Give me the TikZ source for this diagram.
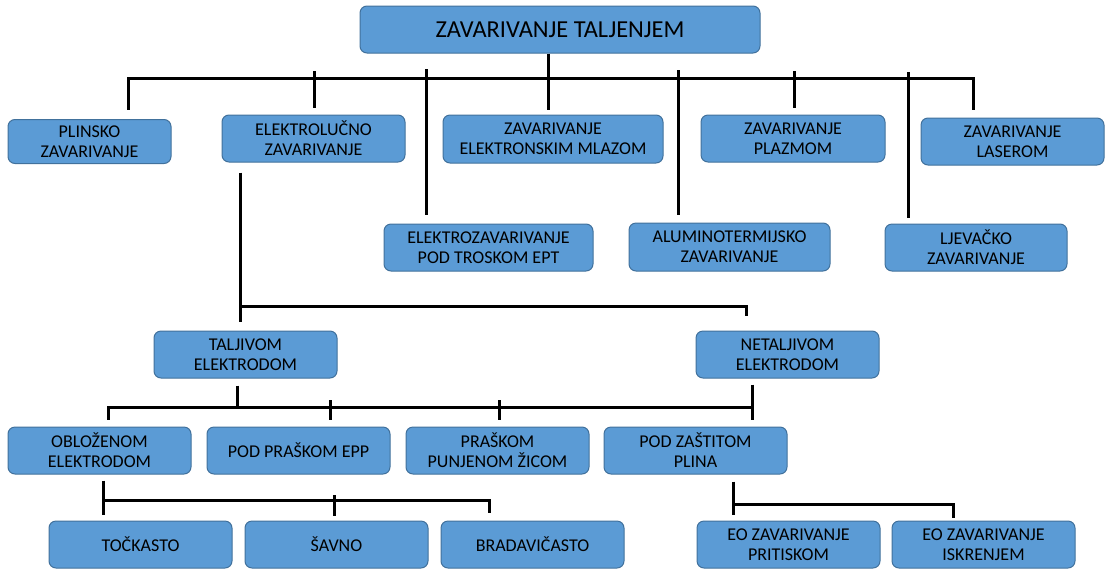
\documentclass[tikz,border=0pt]{standalone}
\usepackage{fontspec}
\setmainfont{Carlito}
\usetikzlibrary{calc}
\definecolor{boxfill}{HTML}{5B9BD5}
\definecolor{boxline}{HTML}{41719C}
\begin{document}
\begin{tikzpicture}[x=1pt,y=-1pt,
  box/.style={draw=boxline, line width=1pt, fill=boxfill, rounded corners=7pt,
    align=center, inner sep=0pt, font=\fontsize{18}{20}\selectfont,
    minimum width=183pt, minimum height=47pt},
  conn/.style={draw=black, line width=3pt, line cap=butt, line join=miter}]
\useasboundingbox (0,0) rectangle (1105,571);
% nodes
\node[box, minimum width=400pt, font=\fontsize{24.4}{28}\selectfont] (title) at (560,29.5) {ZAVARIVANJE TALJENJEM};
\node[box, minimum width=163pt, minimum height=44pt] (plinsko) at (89.5,141.5) {PLINSKO\\ZAVARIVANJE};
\node[box] (elektrolucno) at (313.5,138.5) {ELEKTROLUČNO\\ZAVARIVANJE};
\node[box, minimum width=220pt, minimum height=48pt] (mlaz) at (553,139) {ZAVARIVANJE\\ELEKTRONSKIM MLAZOM};
\node[box, minimum width=184pt] (plazma) at (793,138.5) {ZAVARIVANJE\\PLAZMOM};
\node[box] (laser) at (1012.5,141.5) {ZAVARIVANJE\\LASEROM};
\node[box, minimum width=209pt] (ept) at (488.5,247.5) {ELEKTROZAVARIVANJE\\POD TROSKOM EPT};
\node[box, minimum width=201pt, minimum height=48pt] (alu) at (729.5,247) {ALUMINOTERMIJSKO\\ZAVARIVANJE};
\node[box, minimum width=182pt] (ljev) at (976,247.5) {LJEVAČKO\\ZAVARIVANJE};
\node[box] (taljivom) at (245.5,354.5) {TALJIVOM\\ELEKTRODOM};
\node[box] (netaljivom) at (787.5,354.5) {NETALJIVOM\\ELEKTRODOM};
\node[box] (oblozenom) at (99.5,450.5) {OBLOŽENOM\\ELEKTRODOM};
\node[box] (podpraskom) at (298.5,450.5) {POD PRAŠKOM EPP};
\node[box] (praskom) at (497.5,450.5) {PRAŠKOM\\PUNJENOM ŽICOM};
\node[box] (zastitom) at (695.5,450.5) {POD ZAŠTITOM\\PLINA};
\node[box] (tockasto) at (140.5,544.5) {TOČKASTO};
\node[box] (savno) at (336.5,544.5) {ŠAVNO};
\node[box] (brad) at (532.5,544.5) {BRADAVIČASTO};
\node[box] (pritiskom) at (788.5,544.5) {EO ZAVARIVANJE\\PRITISKOM};
\node[box] (iskrenjem) at (983.5,544.5) {EO ZAVARIVANJE\\ISKRENJEM};
% junctions
\coordinate (j1) at (548,78);
\coordinate (j2) at (240,306);
\coordinate (j3) at (237,407);
\coordinate (j4) at (103,500);
\coordinate (j5) at (733,504);
% level 1
\draw[conn] ([xshift=-12pt]title.south) -- ([xshift=-5pt,yshift=5pt]mlaz.north);
\draw[conn] ([xshift=38.5pt,yshift=9.5pt]plinsko.north) |- (j1) -| ([xshift=-39.5pt,yshift=8pt]laser.north);
\draw[conn] ([xshift=0.5pt,yshift=7pt]elektrolucno.north) -- ([xshift=0.5pt,yshift=7pt]elektrolucno.north |- j1);
\draw[conn] ([xshift=-62.5pt,yshift=9pt]ept.north) -- ([xshift=-62.5pt,yshift=9pt]ept.north |- j1);
\draw[conn] ([xshift=-51.5pt,yshift=8pt]alu.north) -- ([xshift=-51.5pt,yshift=8pt]alu.north |- j1);
\draw[conn] ([xshift=1pt,yshift=7pt]plazma.north) -- ([xshift=1pt,yshift=7pt]plazma.north |- j1);
\draw[conn] ([xshift=-68pt,yshift=6pt]ljev.north) -- ([xshift=-68pt,yshift=6pt]ljev.north |- j1);
% elektrolucno branch
\draw[conn] ([xshift=-73.5pt,yshift=-10pt]elektrolucno.south) -- ([xshift=-5.5pt,yshift=9pt]taljivom.north);
\draw[conn] (j2) -| ([xshift=-41.5pt,yshift=15pt]netaljivom.north);
% taljivom / netaljivom
\draw[conn] ([xshift=-8.5pt,yshift=-7pt]taljivom.south) -- (j3);
\draw[conn] ([xshift=8.5pt,yshift=7pt]oblozenom.north) |- (j3) -| ([xshift=56.5pt,yshift=7pt]zastitom.north);
\draw[conn] ([xshift=-35.5pt,yshift=-6pt]netaljivom.south) -- ([xshift=56.5pt,yshift=7pt]zastitom.north);
\draw[conn] ([xshift=31.5pt,yshift=7pt]podpraskom.north) -- ([xshift=31.5pt,yshift=7pt]podpraskom.north |- j3);
\draw[conn] ([xshift=1.5pt,yshift=7pt]praskom.north) -- ([xshift=1.5pt,yshift=7pt]praskom.north |- j3);
% oblozenom branch
\draw[conn] ([xshift=3.5pt,yshift=-6pt]oblozenom.south) -- ([xshift=-37.5pt,yshift=6pt]tockasto.north);
\draw[conn] (j4) -| ([xshift=-43.5pt,yshift=8pt]brad.north);
\draw[conn] ([xshift=-2.5pt,yshift=5pt]savno.north) -- ([xshift=-2.5pt,yshift=5pt]savno.north |- j4);
% zastitom branch
\draw[conn] ([xshift=37.5pt,yshift=-7pt]zastitom.south) -- ([xshift=-55.5pt,yshift=6pt]pritiskom.north);
\draw[conn] (j5) -| ([xshift=-30.5pt,yshift=3pt]iskrenjem.north);
\end{tikzpicture}
\end{document}
